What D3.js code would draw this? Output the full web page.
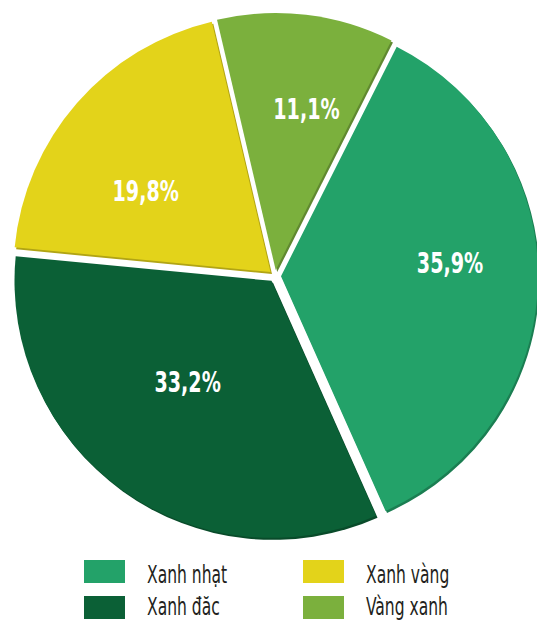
<!DOCTYPE html>
<html>
<head>
<meta charset="utf-8">
<script src="https://cdn.jsdelivr.net/npm/d3@7"></script>
<style>
  body { margin: 0; background: #fff; }
  svg { display: block; }
</style>
</head>
<body>
<div id="chart"></div>
<script>
// data
var categories = ["Vàng xanh", "Xanh nhạt", "Xanh đăc", "Xanh vàng"];
var values = [11.1, 35.9, 33.2, 19.8];
var labels = ["11,1%", "35,9%", "33,2%", "19,8%"];
var colors = ["#7bb03d", "#23a269", "#0b6036", "#e3d31a"];

// legend order (two columns)
var legendOrder = ["Xanh nhạt", "Xanh đăc", "Xanh vàng", "Vàng xanh"];

var svgWidth = 537;
var svgHeight = 621;

var cx = 275, cy = 276;
var radius = 257;
var explode = 6;
// label placement: share of the radius and a small angle nudge (degrees)
var labelPos = [0.64, 0.66, 0.51, 0.58];
var labelTurn = [4, -6, 4, -8];

var svg = d3.select("#chart")
    .append("svg")
    .attr("width", svgWidth)
    .attr("height", svgHeight);

var colorScale = d3.scaleOrdinal().domain(categories).range(colors);

var pieData = categories.map(function(c, i) {
    return { name: c, value: values[i], label: labels[i], lr: labelPos[i], turn: labelTurn[i] };
});

var startA = -13.2 * Math.PI / 180;
var pie = d3.pie()
    .sort(null)
    .value(d => d.value)
    .startAngle(startA)
    .endAngle(startA + 2 * Math.PI);

var arc = d3.arc().innerRadius(0).outerRadius(radius);

var arcs = pie(pieData);

var chartGroup = svg.append("g")
    .attr("transform", `translate(${cx}, ${cy})`);

var slices = chartGroup.selectAll("g.slice")
    .data(arcs)
    .enter()
    .append("g")
    .attr("class", "slice")
    .attr("transform", function(d) {
        var mid = (d.startAngle + d.endAngle) / 2;
        return `translate(${Math.sin(mid) * explode}, ${-Math.cos(mid) * explode})`;
    });

// darker edge underneath, like a little shadow
slices.append("path")
    .attr("d", arc)
    .attr("transform", "translate(1.5, 2)")
    .attr("fill", d => d3.color(colorScale(d.data.name)).darker(0.7));

slices.append("path")
    .attr("d", arc)
    .attr("fill", d => colorScale(d.data.name));

slices.append("text")
    .attr("transform", function(d) {
        var a = (d.startAngle + d.endAngle) / 2 + d.data.turn * Math.PI / 180;
        var r = radius * d.data.lr;
        return `translate(${Math.sin(a) * r}, ${-Math.cos(a) * r}) scale(0.76, 1)`;
    })
    .attr("text-anchor", "middle")
    .attr("dy", "0.36em")
    .attr("font-family", "'DejaVu Sans Condensed', 'DejaVu Sans', sans-serif")
    .attr("font-weight", "bold")
    .attr("font-size", 28)
    .attr("fill", "#fff")
    .text(d => d.data.label);

// legend
var legend = svg.append("g");
var legendX = [84, 303];
var legendY = [560, 596];
var textBase = [23, 19];

legendOrder.forEach(function(name, i) {
    var col = Math.floor(i / 2), row = i % 2;
    var g = legend.append("g")
        .attr("transform", `translate(${legendX[col]}, ${legendY[row]})`);
    g.append("rect")
        .attr("width", 41)
        .attr("height", 23)
        .attr("fill", colorScale(name));
    g.append("text")
        .attr("transform", `translate(63, ${textBase[row]}) scale(0.72, 1)`)
        .attr("font-family", "'DejaVu Sans Condensed', 'DejaVu Sans', sans-serif")
        .attr("font-size", 24)
        .attr("fill", "#231f20")
        .text(name);
});
</script>
</body>
</html>
